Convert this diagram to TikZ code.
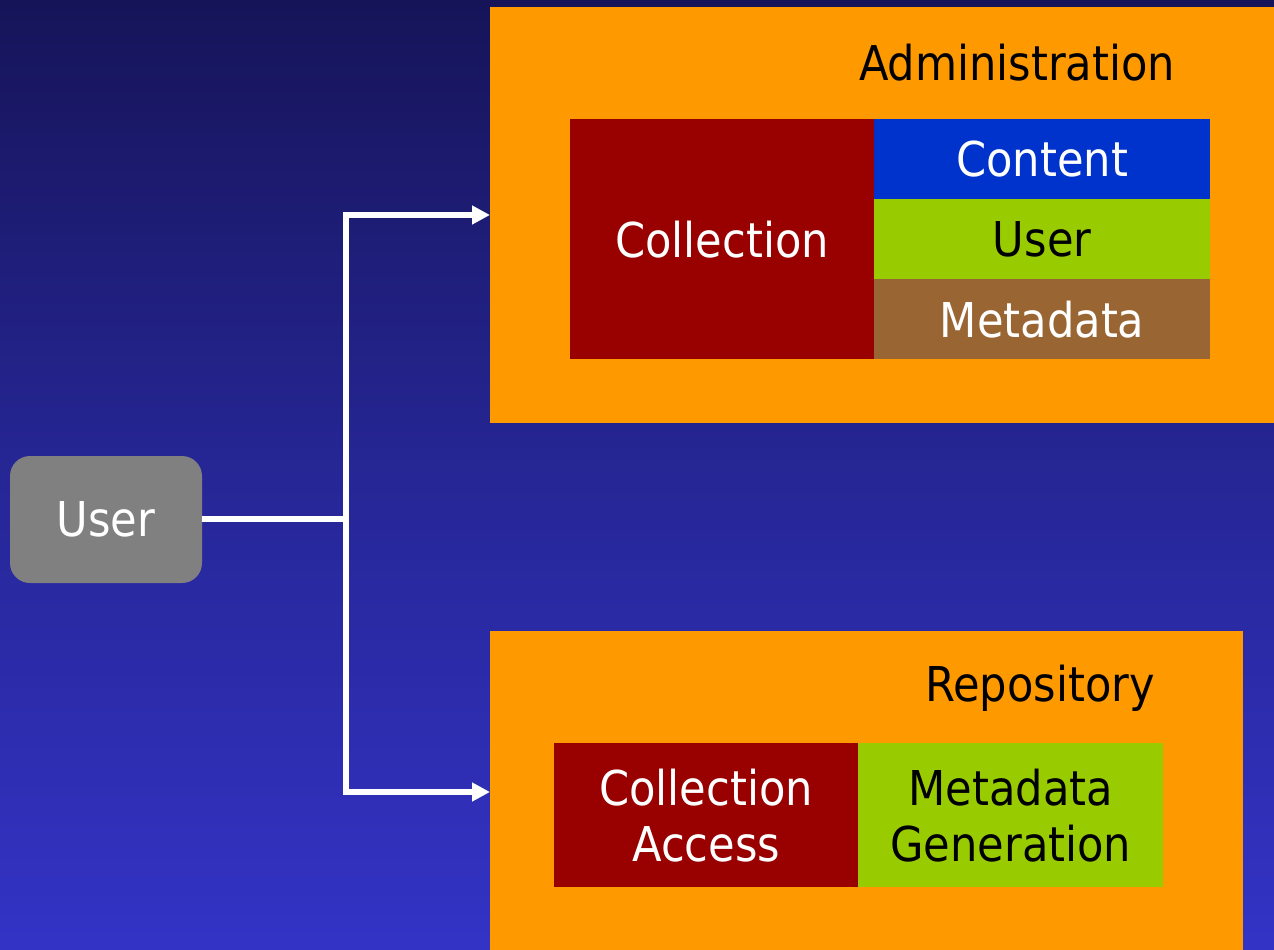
\documentclass[tikz,border=0pt]{standalone}
\usepackage{fontspec}
\setmainfont{DejaVu Sans Condensed}
\usetikzlibrary{arrows.meta}
\definecolor{bgtop}{RGB}{22,20,88}
\definecolor{bgbot}{RGB}{51,51,198}
\definecolor{orng}{RGB}{255,153,0}
\definecolor{dred}{RGB}{153,0,0}
\definecolor{cblue}{RGB}{0,51,204}
\definecolor{lgreen}{RGB}{153,204,0}
\definecolor{brwn}{RGB}{153,102,51}
\definecolor{ugray}{RGB}{128,128,128}
\tikzset{
  panel/.style={fill=orng, draw=none},
  cell/.style={draw=none, inner sep=0pt, anchor=north west, align=center, font=\fontsize{48}{56}\selectfont},
  ttl/.style={font=\fontsize{48}{56}\selectfont, text=black},
  conn/.style={draw=white, line width=6.5pt},
  arr/.style={conn, -{Triangle[length=18pt,width=18pt]}}
}
\begin{document}
\begin{tikzpicture}[x=1pt,y=-1pt]
\useasboundingbox (0,0) rectangle (1274,950);
\shade[top color=bgtop, bottom color=bgbot, middle color={rgb,255:red,38;green,38;blue,150}] (0,0) rectangle (1274,950);
% Administration panel
\node[panel, anchor=north west, minimum width=784pt, minimum height=416pt, inner sep=0pt] (admin) at (490,7) {};
\node[ttl] (admint) at (1017,63) {Administration};
\node[cell, fill=dred, text=white, minimum width=304pt, minimum height=240pt] (coll) at (570,119) {Collection};
\node[cell, fill=cblue, text=white, minimum width=336pt, minimum height=80pt] (cont) at (874,119) {Content};
\node[cell, fill=lgreen, text=black, minimum width=336pt, minimum height=80pt] (usr2) at (874,199) {User};
\node[cell, fill=brwn, text=white, minimum width=336pt, minimum height=80pt] (meta) at (874,279) {Metadata};
% Repository panel
\node[panel, anchor=north west, minimum width=753pt, minimum height=330pt, inner sep=0pt] (repo) at (490,631) {};
\node[ttl] (repot) at (1040,688) {Repository};
\node[cell, fill=dred, text=white, minimum width=304pt, minimum height=144pt] (cacc) at (554,743) {Collection\\Access};
\node[cell, fill=lgreen, text=black, minimum width=305pt, minimum height=144pt] (mgen) at (858,743) {Metadata\\Generation};
% User
\node[fill=ugray, rounded corners=20pt, minimum width=192pt, minimum height=127pt, text=white, font=\fontsize{48}{56}\selectfont] (user) at (106,519.5) {User};
% connectors
\coordinate (j) at (346,519);
\coordinate (ja) at (346,215);
\coordinate (jr) at (346,792);
\coordinate (ta) at (490,215);
\coordinate (tr) at (490,792);
\draw[conn] (user.east |- j) -- (j);
\draw[arr] (j) -- (ja) -- (ta);
\draw[arr] (j) -- (jr) -- (tr);
\end{tikzpicture}
\end{document}
